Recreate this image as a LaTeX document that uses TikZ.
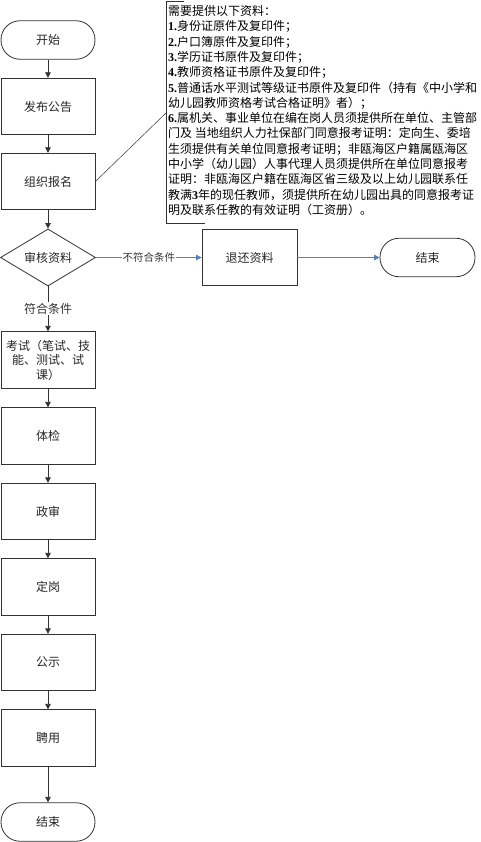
\documentclass[tikz,border=0pt]{standalone}
\usepackage{fontspec}
\setmainfont{Noto Sans CJK SC}
\newfontfamily\numfont{Liberation Serif}
\usetikzlibrary{shapes.geometric,arrows.meta}
\definecolor{flowblue}{HTML}{4F81BD}
\definecolor{linegray}{HTML}{333333}
\newcommand{\bnum}[1]{{\numfont\bfseries #1}}
\tikzset{
  base/.style={draw=linegray,line width=0.8pt,inner sep=0pt,align=center,
    font=\fontsize{12}{14.5}\selectfont,text=black!85},
  procbox/.style={base,rectangle,minimum width=94pt,minimum height=56.5pt},
  termbox/.style={base,rectangle,rounded corners=19pt,minimum width=94pt,minimum height=38.5pt},
  decbox/.style={base,diamond,aspect=1.67,minimum width=95pt,minimum height=57pt},
  flowarrow/.style={draw=linegray,line width=0.8pt,-{Triangle[length=5.5pt,width=5.5pt]}},
  bluearrow/.style={draw=flowblue,line width=0.8pt,-{Triangle[length=5.5pt,width=5.5pt]}},
  lbl/.style={fill=white,inner sep=1pt,text=black!80},
  notetext/.style={anchor=base west,inner sep=0pt,font=\fontsize{12}{14}\selectfont,text=black}
}
\begin{document}
\begin{tikzpicture}[x=1pt,y=-1pt]
\useasboundingbox (0,0) rectangle (480,842);
% main column
\node[termbox] (start) at (48,40) {开始};
\node[procbox] (pub) at (48,106.5) {发布公告};
\node[procbox] (sign) at (48,181.5) {组织报名};
\node[decbox] (check) at (48,257.5) {审核资料};
\node[procbox] (exam) at (48,360) {考试（笔试、技\\能、测试、试\\课）};
\node[procbox] (phys) at (48,436) {体检};
\node[procbox] (pol) at (48,511.5) {政审};
\node[procbox] (post) at (48,587) {定岗};
\node[procbox] (pubr) at (48,662.5) {公示};
\node[procbox] (hire) at (48,738) {聘用};
\node[termbox] (fin) at (48,822) {结束};
% side branch
\node[procbox,minimum width=95pt] (ret) at (249.5,257.5) {退还资料};
\node[termbox,minimum width=95pt] (fin2) at (427.5,257.5) {结束};
% connectors
\draw[flowarrow] (start) -- (pub);
\draw[flowarrow] (pub) -- (sign);
\draw[flowarrow] (sign) -- (check);
\draw[flowarrow] (check) -- node[lbl,font=\fontsize{12}{14}\selectfont] (okl) {符合条件} (exam);
\draw[flowarrow] (exam) -- (phys);
\draw[flowarrow] (phys) -- (pol);
\draw[flowarrow] (pol) -- (post);
\draw[flowarrow] (post) -- (pubr);
\draw[flowarrow] (pubr) -- (hire);
\draw[flowarrow] (hire) -- (fin);
\draw[bluearrow] (check) -- node[lbl,font=\fontsize{10.5}{12}\selectfont] (nol) {不符合条件} (ret);
\draw[bluearrow] (ret) -- (fin2);
% annotation bracket
\coordinate (btop) at (184,1);
\coordinate (btl) at (166,1);
\coordinate (bbl) at (166,223);
\coordinate (bbot) at (205,223);
\coordinate (bhook) at (166,113);
\draw[linegray,line width=0.7pt] (btop) -- (btl) -- (bbl) -- (bbot);
\draw[linegray,line width=0.5pt] (sign.east) -- (bhook);
% annotation text
\foreach \i/\t in {
 1/{需要提供以下资料：},
 2/{\bnum{1.}身份证原件及复印件；},
 3/{\bnum{2.}户口簿原件及复印件；},
 4/{\bnum{3.}学历证书原件及复印件；},
 5/{\bnum{4.}教师资格证书原件及复印件；},
 6/{\bnum{5.}普通话水平测试等级证书原件及复印件（持有《中小学和},
 7/{幼儿园教师资格考试合格证明》者）；},
 8/{\bnum{6.}属机关、事业单位在编在岗人员须提供所在单位、主管部},
 9/{门及 当地组织人力社保部门同意报考证明：定向生、委培},
 10/{生须提供有关单位同意报考证明；非瓯海区户籍属瓯海区},
 11/{中小学（幼儿园）人事代理人员须提供所在单位同意报考},
 12/{证明：非瓯海区户籍在瓯海区省三级及以上幼儿园联系任},
 13/{教满\bnum{3}年的现任教师，须提供所在幼儿园出具的同意报考证},
 14/{明及联系任教的有效证明（工资册）。}}
 {\node[notetext] (note\i) at (168,{15.6+15.3*(\i-1)}) {\t};}
\end{tikzpicture}
\end{document}
